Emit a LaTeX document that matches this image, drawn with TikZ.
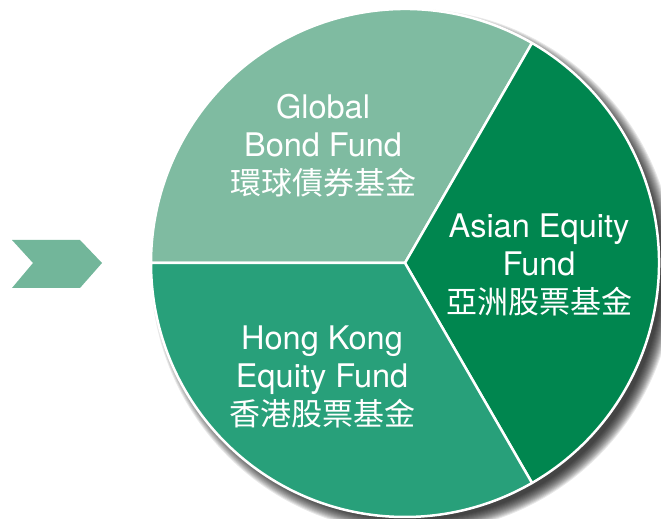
\documentclass[tikz,border=0pt]{standalone}
\usepackage{fontspec}
\setmainfont{TeX Gyre Heros}
\newfontfamily\cjk{Noto Sans CJK TC}

\definecolor{bondgreen}{RGB}{127,187,161}
\definecolor{asiagreen}{RGB}{0,134,79}
\definecolor{hkgreen}{RGB}{40,160,122}
\definecolor{arrowgreen}{RGB}{114,182,154}

\newcommand{\hanzi}[1]{{\cjk\fontsize{31}{38}\selectfont #1}}

\begin{document}
\begin{tikzpicture}[%
    x=1pt, y=1pt,               % one unit is one pixel of the sheet
    every node/.style={text=white, align=center},
    ]
% -------------------------------------------------
% Styles for the slices and their captions
\tikzset{
  slice/.style={draw=white, line width=2.5pt, line join=round},
  fundtext/.style={font=\fontsize{32.5}{38}\selectfont},
  chevron/.style={fill=arrowgreen},
}
\useasboundingbox (0,0) rectangle (661,519);
\clip (0,0) rectangle (661,519);
% -------------------------------------------------
% Soft shadow behind the pie
\foreach \r in {249,...,262}
  \fill[black, opacity=0.09] (413,248) circle (\r);

% The pie itself
\coordinate (c) at (405,256);
\filldraw[slice, fill=bondgreen] (c) -- ++(60:254)
  arc[start angle=60, end angle=180, radius=254] -- cycle;
\filldraw[slice, fill=asiagreen] (c) -- ++(-60:254)
  arc[start angle=-60, end angle=60, radius=254] -- cycle;
\filldraw[slice, fill=hkgreen] (c) -- ++(180:254)
  arc[start angle=180, end angle=300, radius=254] -- cycle;

% Arrow on the left
\fill[chevron] (12,279) -- (80,279) -- (102,256) -- (80,231)
  -- (12,231) -- (33,256) -- cycle;

% Captions
\node[fundtext] (global) at (323,373) {Global\\Bond Fund\\\hanzi{環球債券基金}};
\node[fundtext] (asian) at (539,254) {Asian Equity\\Fund\\\hanzi{亞洲股票基金}};
\node[fundtext] (hongkong) at (322,142) {Hong Kong\\Equity Fund\\\hanzi{香港股票基金}};

% -------------------------------------------------
\end{tikzpicture}
\end{document}
